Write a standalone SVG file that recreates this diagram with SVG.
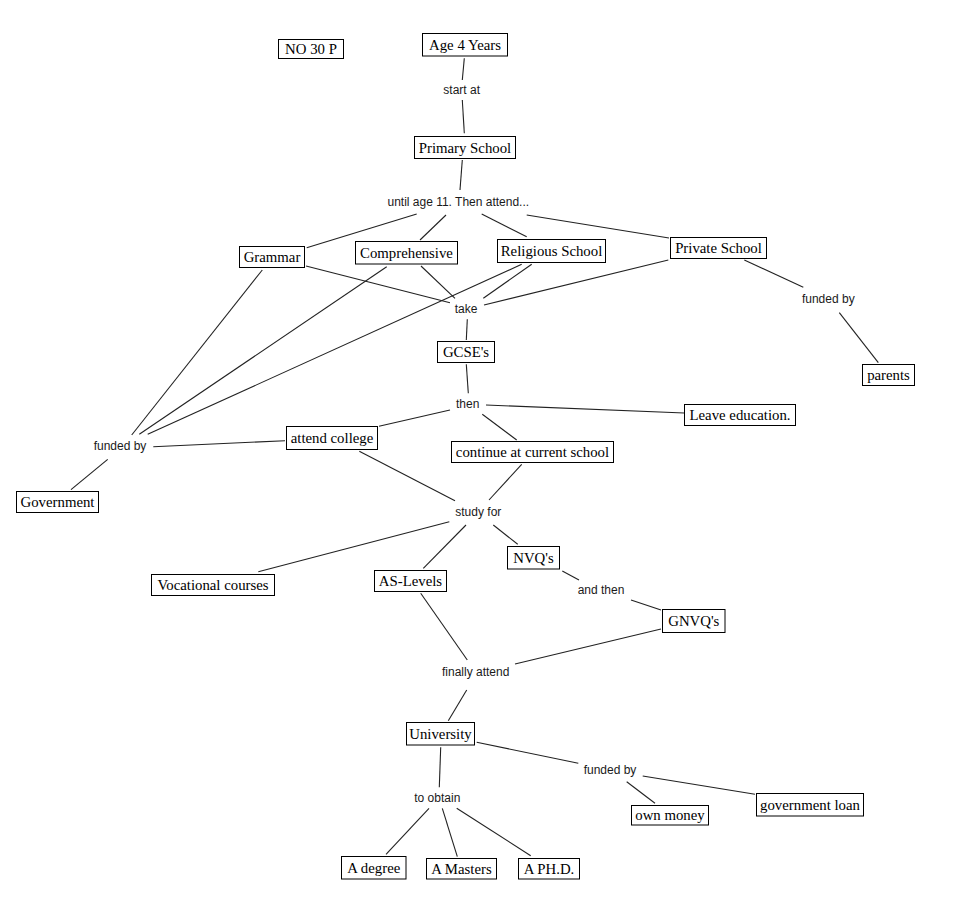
<svg xmlns="http://www.w3.org/2000/svg" width="955" height="920" viewBox="0 0 955 920">
<style>
.n rect{fill:#fff;stroke:#000;stroke-width:1}
.n text{font-family:"Liberation Serif","Times New Roman",serif;font-size:14.8px;fill:#000;text-anchor:middle}
.l text{font-family:"Liberation Sans",Arial,sans-serif;font-size:12px;fill:#1a1a1a;text-anchor:middle}
#connectors line{stroke:#222;stroke-width:1.1}
</style>
<rect width="955" height="920" fill="#fff"/>
<g id="connectors">
<line x1="464.3" y1="58.3" x2="462.3" y2="80"/>
<line x1="462.3" y1="100" x2="464.3" y2="133.3"/>
<line x1="462.3" y1="160" x2="460" y2="190"/>
<line x1="416.7" y1="214" x2="306.7" y2="247.7"/>
<line x1="446" y1="215" x2="420" y2="240"/>
<line x1="481.7" y1="214" x2="526.7" y2="236.7"/>
<line x1="526.7" y1="215" x2="669" y2="238"/>
<line x1="306" y1="266" x2="450" y2="302.7"/>
<line x1="262.3" y1="270" x2="131.7" y2="435"/>
<line x1="386.7" y1="266.7" x2="139.3" y2="434.3"/>
<line x1="521.7" y1="264.3" x2="147.7" y2="434.3"/>
<line x1="421" y1="266" x2="455" y2="298.3"/>
<line x1="531.7" y1="264.3" x2="483.3" y2="298.3"/>
<line x1="668.3" y1="260" x2="484" y2="305"/>
<line x1="744.3" y1="260" x2="803.3" y2="287.3"/>
<line x1="839.3" y1="312.7" x2="878.3" y2="362.7"/>
<line x1="467.3" y1="319.3" x2="466.3" y2="340"/>
<line x1="466.3" y1="364.3" x2="468.3" y2="393.3"/>
<line x1="486" y1="405" x2="684.3" y2="413"/>
<line x1="482.3" y1="414.3" x2="516.7" y2="440"/>
<line x1="450" y1="410" x2="379" y2="426.3"/>
<line x1="153.3" y1="446.7" x2="285" y2="440.7"/>
<line x1="107.7" y1="459.3" x2="71" y2="489.7"/>
<line x1="359.3" y1="451.3" x2="455" y2="500.7"/>
<line x1="521.7" y1="464.3" x2="489" y2="500"/>
<line x1="449.3" y1="521.7" x2="258.3" y2="571.7"/>
<line x1="466" y1="525" x2="423.3" y2="568.3"/>
<line x1="493.3" y1="525" x2="517.7" y2="544.3"/>
<line x1="562.3" y1="571" x2="579" y2="580"/>
<line x1="631" y1="600" x2="661" y2="610"/>
<line x1="420.7" y1="593.3" x2="467.3" y2="660"/>
<line x1="661" y1="629" x2="515" y2="664"/>
<line x1="466.7" y1="690" x2="448.3" y2="720.7"/>
<line x1="440.7" y1="747.3" x2="439.3" y2="787.3"/>
<line x1="476.7" y1="742.3" x2="578.3" y2="763.3"/>
<line x1="429" y1="808.3" x2="386" y2="854.3"/>
<line x1="442.3" y1="808.3" x2="457.3" y2="856.7"/>
<line x1="456.7" y1="808.3" x2="530.7" y2="855.7"/>
<line x1="626.7" y1="781.7" x2="655" y2="803.3"/>
<line x1="642.7" y1="776" x2="755" y2="794.3"/>
</g>
<g class="l" id="labels">
<g id="lbl-start-at"><text x="461.7" y="94">start at</text></g>
<g id="lbl-until"><text x="458.3" y="206">until age 11. Then attend...</text></g>
<g id="lbl-take"><text x="466" y="313">take</text></g>
<g id="lbl-funded-parents"><text x="828.3" y="303">funded by</text></g>
<g id="lbl-then"><text x="467.7" y="408">then</text></g>
<g id="lbl-funded-gov"><text x="120" y="450">funded by</text></g>
<g id="lbl-study-for"><text x="478.3" y="516">study for</text></g>
<g id="lbl-and-then"><text x="601" y="594">and then</text></g>
<g id="lbl-finally"><text x="475.7" y="676">finally attend</text></g>
<g id="lbl-to-obtain"><text x="437.3" y="802">to obtain</text></g>
<g id="lbl-funded-uni"><text x="610" y="773.5">funded by</text></g>
</g>
<g class="n" id="no30p"><rect x="278.5" y="39.5" width="65" height="19"/><text x="311" y="54">NO 30 P</text></g>
<g class="n" id="age4"><rect x="422.5" y="33.5" width="85" height="22.5"/><text x="465" y="49.8">Age 4 Years</text></g>
<g class="n" id="primary"><rect x="414.5" y="136.5" width="101" height="22"/><text x="465" y="152.5">Primary School</text></g>
<g class="n" id="grammar"><rect x="239.5" y="246.5" width="65" height="21"/><text x="272" y="262">Grammar</text></g>
<g class="n" id="comprehensive"><rect x="355.5" y="241.5" width="102" height="22.5"/><text x="406.5" y="257.8">Comprehensive</text></g>
<g class="n" id="religious"><rect x="497.5" y="239.5" width="108" height="23"/><text x="551.5" y="256">Religious School</text></g>
<g class="n" id="private"><rect x="670.5" y="237.5" width="96" height="21"/><text x="718.5" y="253">Private School</text></g>
<g class="n" id="parents"><rect x="862.5" y="364.5" width="52" height="21"/><text x="888.5" y="380">parents</text></g>
<g class="n" id="gcse"><rect x="437.5" y="341.5" width="57" height="21"/><text x="466" y="357">GCSE's</text></g>
<g class="n" id="leave"><rect x="684.5" y="404.5" width="111" height="21"/><text x="740" y="420">Leave education.</text></g>
<g class="n" id="continue"><rect x="451.5" y="441.5" width="162" height="21"/><text x="532.5" y="457">continue at current school</text></g>
<g class="n" id="college"><rect x="286.5" y="426.5" width="91" height="23"/><text x="332" y="443">attend college</text></g>
<g class="n" id="government"><rect x="16.5" y="491.5" width="82" height="21"/><text x="57.5" y="507">Government</text></g>
<g class="n" id="vocational"><rect x="151.5" y="574.5" width="123" height="21"/><text x="213" y="590">Vocational courses</text></g>
<g class="n" id="aslevels"><rect x="374.5" y="570.5" width="72" height="21"/><text x="410.5" y="586">AS-Levels</text></g>
<g class="n" id="nvq"><rect x="507.5" y="546.5" width="52" height="22.5"/><text x="533.5" y="562.8">NVQ's</text></g>
<g class="n" id="gnvq"><rect x="662.5" y="609.5" width="62.5" height="23"/><text x="693.8" y="626">GNVQ's</text></g>
<g class="n" id="university"><rect x="406.5" y="722.5" width="68" height="22.5"/><text x="440.5" y="738.8">University</text></g>
<g class="n" id="degree"><rect x="341.5" y="856.5" width="64.5" height="22.5"/><text x="373.8" y="872.8">A degree</text></g>
<g class="n" id="masters"><rect x="426.5" y="858.5" width="70" height="20.5"/><text x="461.5" y="873.8">A Masters</text></g>
<g class="n" id="phd"><rect x="518.5" y="858.5" width="61" height="20.5"/><text x="549" y="873.8">A PH.D.</text></g>
<g class="n" id="ownmoney"><rect x="631.5" y="805.5" width="77" height="19.5"/><text x="670" y="820">own money</text></g>
<g class="n" id="govloan"><rect x="756.5" y="793.5" width="107" height="22.5"/><text x="810" y="809.8">government loan</text></g>
</svg>
